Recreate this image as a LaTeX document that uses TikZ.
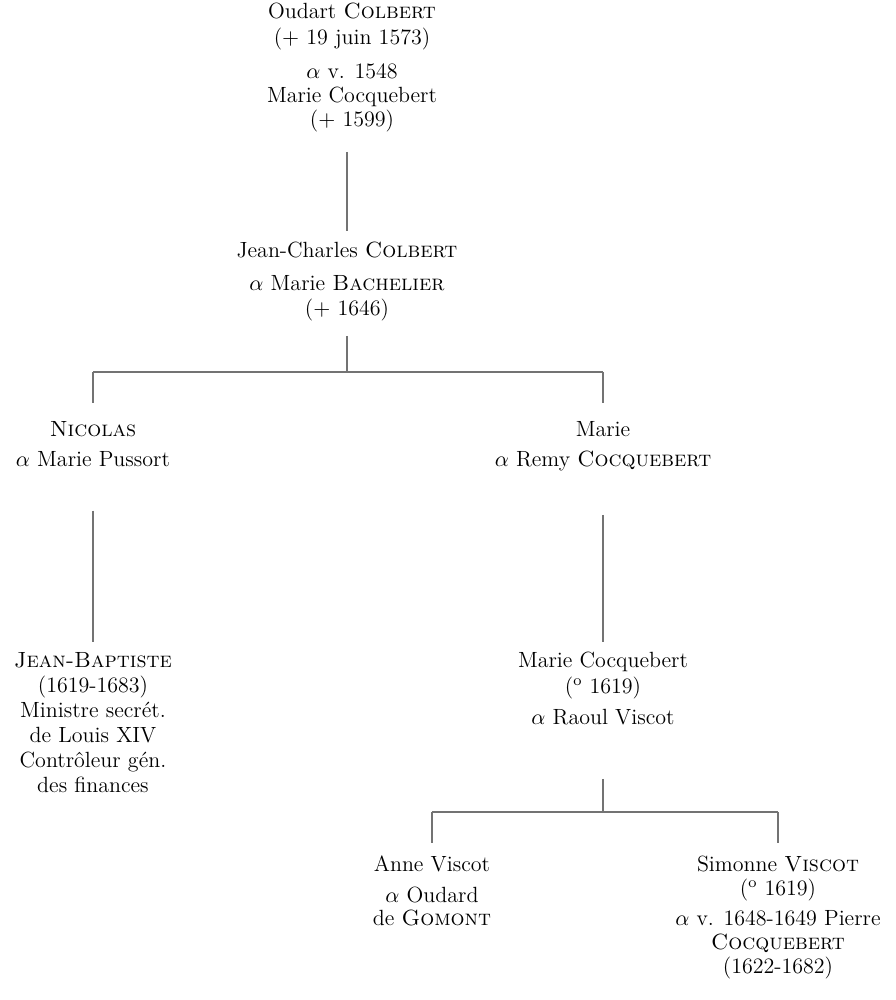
\documentclass[tikz,border=0pt]{standalone}
\usetikzlibrary{calc}

\tikzset{
  person/.style={align=center, inner sep=0pt, anchor=base,
    font=\fontsize{11}{12}\selectfont},
  stem/.style={draw=black!55, line width=0.6pt}
}

\begin{document}
\begin{tikzpicture}[x=0.5pt,y=0.5pt,yscale=-1,xscale=1]
    \useasboundingbox (0,0) rectangle (895,1000);

    % Text Node (anchored at the baseline of its last line)
    \node[person] (oudart) at (352,127) {Oudart \textsc{Colbert}\\[1pt] ($+$ 19 juin 1573)\\[5pt] $\alpha$ v. 1548\\ Marie Cocquebert\\ ($+$ 1599)};
    % Text Node
    \node[person] (jc) at (347,315) {Jean-Charles \textsc{Colbert}\\[4.5pt] $\alpha$ Marie \textsc{Bachelier}\\[0.5pt] ($+$ 1646)};
    % Text Node
    \node[person] (nicolas) at (93,466) {\textsc{Nicolas}\\[3pt] $\alpha$ Marie Pussort};
    % Text Node
    \node[person] (marie) at (603,466) {Marie\\[3pt] $\alpha$ Remy \textsc{Cocquebert}};
    % Text Node
    \node[person] (jb) at (93,792) {\textsc{Jean-Baptiste}\\[0.5pt] (1619-1683)\\[0.5pt] Ministre secrét.\\[0.5pt] de Louis XIV\\[0.5pt] Contrôleur gén.\\[0.5pt] des finances};
    % Text Node
    \node[person] (mc) at (603,724) {Marie Cocquebert\\[1pt] (\textsuperscript{o} 1619)\\[3.5pt] $\alpha$ Raoul Viscot};
    % Text Node
    \node[person] (anne) at (432,925) {Anne Viscot\\[3.5pt] $\alpha$ Oudard\\[-0.5pt] de \textsc{Gomont}};
    % Text Node
    \node[person] (simonne) at (778,973) {Simonne \textsc{Viscot}\\ (\textsuperscript{o} 1619)\\[3pt] $\alpha$ v. 1648-1649 Pierre\\ \textsc{Cocquebert}\\ (1622-1682)};

    %Fork points
    \coordinate (fork1) at (347,372);
    \coordinate (fork2) at (603,812);

    %Straight Lines (yshift is flipped by yscale=-1: negative is up)
    \draw[stem] ([yshift=9.5pt]oudart.south -| jc.north) -- ([yshift=-5pt]jc.north);
    \draw[stem] ([yshift=7.5pt]jc.south) -- (fork1);
    \draw[stem] (fork1 -| nicolas.north) -- (fork1 -| marie.north);
    \draw[stem] (fork1 -| nicolas.north) -- ([yshift=-9pt]nicolas.north);
    \draw[stem] (fork1 -| marie.north) -- ([yshift=-9pt]marie.north);
    \draw[stem] ([yshift=22pt]nicolas.south) -- ([yshift=-5pt]jb.north);
    \draw[stem] ([yshift=22pt]marie.south) -- ([yshift=-4.5pt]mc.north);
    \draw[stem] ([yshift=27pt]mc.south) -- (fork2);
    \draw[stem] (fork2 -| anne.north) -- (fork2 -| simonne.north);
    \draw[stem] (fork2 -| anne.north) -- ([yshift=-6pt]anne.north);
    \draw[stem] (fork2 -| simonne.north) -- ([yshift=-6pt]simonne.north);

\end{tikzpicture}
\end{document}
